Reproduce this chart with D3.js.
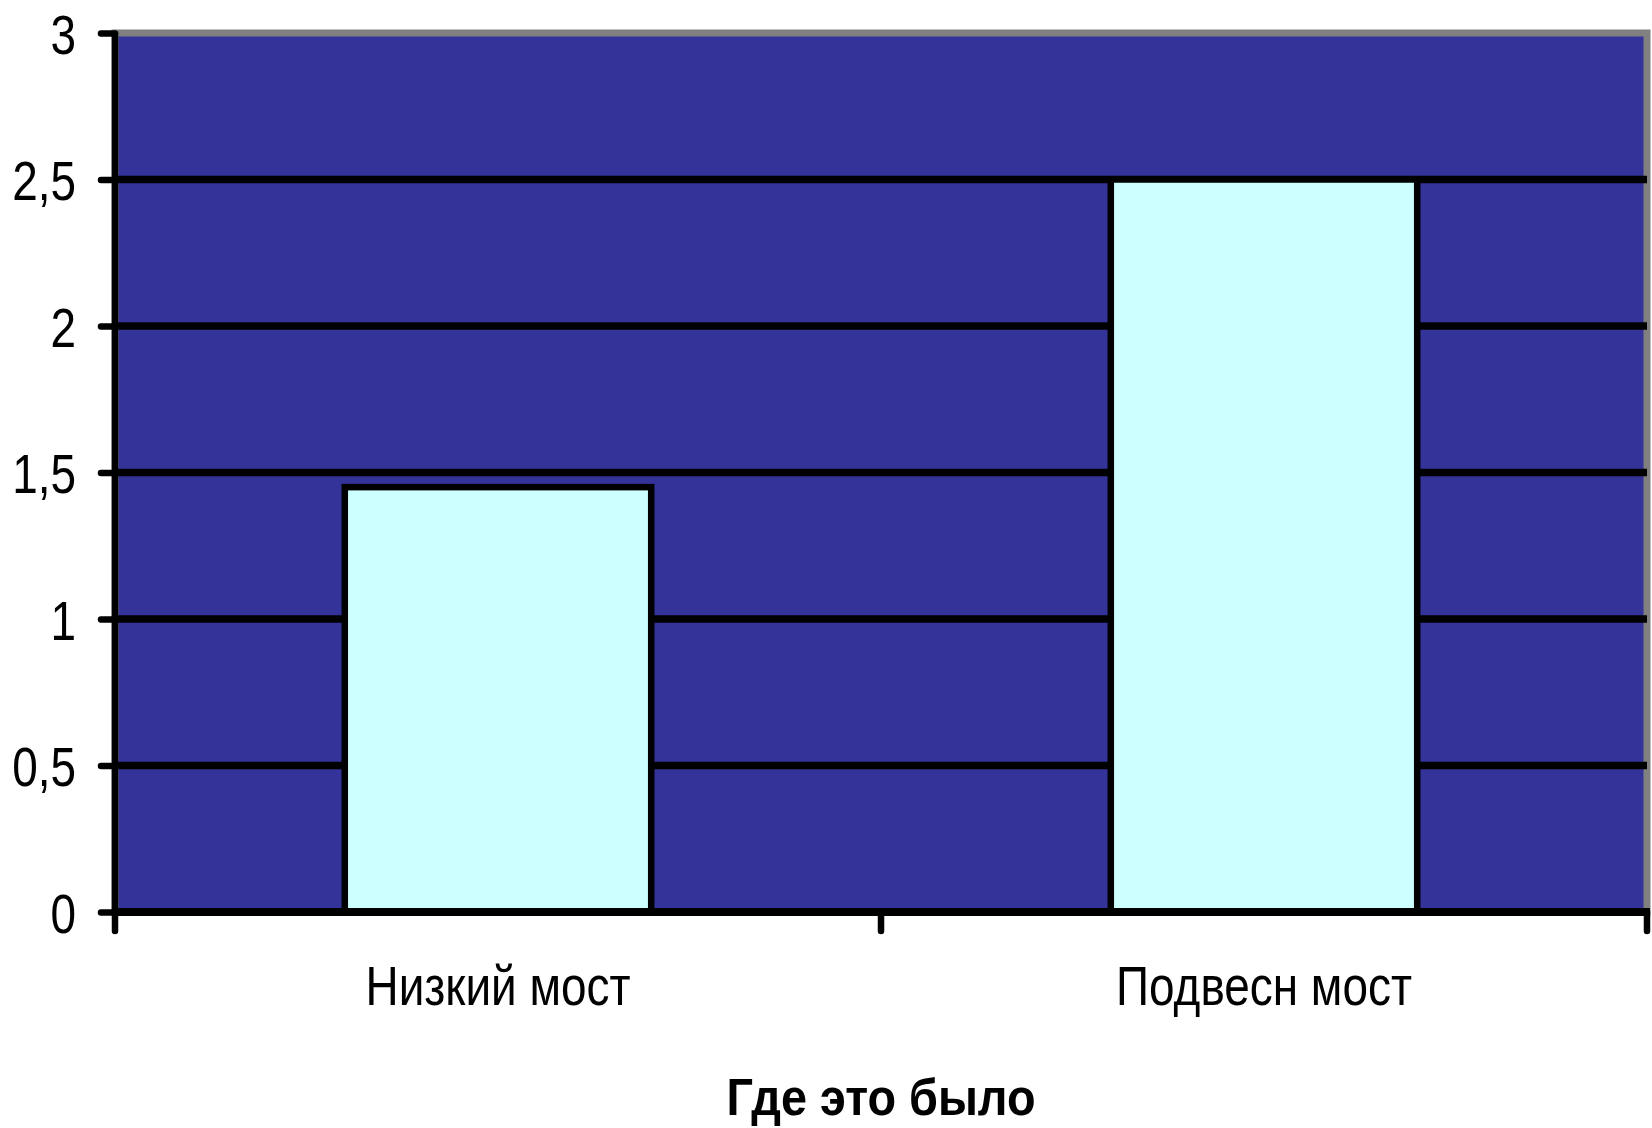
<!DOCTYPE html>
<html>
<head>
<meta charset="utf-8">
<script src="https://cdn.jsdelivr.net/npm/d3@7"></script>
<style>
  html, body { margin: 0; padding: 0; background: #ffffff; }
  svg { display: block; }
  text { font-family: "Liberation Sans", Arial, sans-serif; }
</style>
</head>
<body>
<svg id="chart" width="1652" height="1128"></svg>
<script>
// Bridge locations and counts
const categories = ["Низкий мост", "Подвесн мост"];
const values = [1.45, 2.5];
const yTicks = [0, 0.5, 1, 1.5, 2, 2.5, 3];
const xTitle = "Где это было";

const plot = { left: 115, right: 1647, top: 33, bottom: 912 };
const narrow = 0.82;      // horizontal squeeze for the condensed lettering
const narrowBold = 0.9;

const svg = d3.select("#chart");

const x = d3.scaleBand()
  .domain(categories)
  .range([plot.left, plot.right])
  .paddingInner(0.6)
  .paddingOuter(0.3);

const y = d3.scaleLinear()
  .domain([0, 3])
  .range([plot.bottom, plot.top]);

const fmt = v => d3.format("")(v).replace(".", ",");

// Plot area: navy fill with grey frame
svg.append("rect")
  .attr("x", plot.left).attr("y", plot.top)
  .attr("width", plot.right - plot.left).attr("height", plot.bottom - plot.top)
  .attr("fill", "#333399")
  .attr("stroke", "#808080")
  .attr("stroke-width", 7);

// Horizontal gridlines
svg.append("g")
  .selectAll("line")
  .data(yTicks.filter(t => t > 0 && t < 3))
  .join("line")
  .attr("x1", plot.left).attr("x2", plot.right)
  .attr("y1", d => y(d)).attr("y2", d => y(d))
  .attr("stroke", "#000").attr("stroke-width", 7.5);

// Bars
svg.append("g")
  .selectAll("rect")
  .data(categories.map((c, i) => ({ c, v: values[i] })))
  .join("rect")
  .attr("x", d => x(d.c))
  .attr("width", x.bandwidth())
  .attr("y", d => y(d.v))
  .attr("height", d => y(0) - y(d.v))
  .attr("fill", "#CCFFFF")
  .attr("stroke", "#000")
  .attr("stroke-width", 6.5);

// Value axis
const yAxis = svg.append("g")
  .attr("transform", `translate(${plot.left},0)`)
  .call(d3.axisLeft(y).tickValues(yTicks).tickFormat(fmt).tickSize(14).tickPadding(24));
yAxis.select(".domain").attr("stroke", "#000").attr("stroke-width", 6.5)
  .attr("d", `M0,${plot.top}V${plot.bottom}`);
yAxis.selectAll(".tick line").attr("stroke", "#000").attr("stroke-width", 6.5)
  .attr("stroke-linecap", "round");
yAxis.selectAll(".tick text")
  .attr("font-size", 56)
  .attr("fill", "#000")
  .attr("x", -39 / narrow)
  .attr("dy", "0.36em")
  .attr("transform", `scale(${narrow},1)`);

// Category axis with ticks on slot boundaries
const slots = d3.scaleLinear().domain([0, categories.length]).range([plot.left, plot.right]);
const bottomAxis = svg.append("g");
bottomAxis.append("line")
  .attr("x1", plot.left).attr("x2", slots(categories.length) + 3)
  .attr("y1", plot.bottom).attr("y2", plot.bottom)
  .attr("stroke", "#000").attr("stroke-width", 8);
bottomAxis.selectAll("line.tick")
  .data(d3.range(categories.length + 1))
  .join("line")
  .attr("class", "tick")
  .attr("x1", d => slots(d)).attr("x2", d => slots(d))
  .attr("y1", plot.bottom).attr("y2", plot.bottom + 19)
  .attr("stroke", "#000").attr("stroke-width", 6.5)
  .attr("stroke-linecap", "round");

bottomAxis.selectAll("g.label")
  .data(categories)
  .join("g")
  .attr("class", "label")
  .attr("transform", d => `translate(${x(d) + x.bandwidth() / 2},1005) scale(${narrow},1)`)
  .append("text")
  .attr("text-anchor", "middle")
  .attr("font-size", 56)
  .attr("fill", "#000")
  .text(d => d);

// Axis title
svg.append("g")
  .attr("transform", `translate(${(plot.left + plot.right) / 2},1115) scale(${narrowBold},1)`)
  .append("text")
  .attr("text-anchor", "middle")
  .attr("font-size", 52)
  .attr("font-weight", "bold")
  .attr("fill", "#000")
  .text(xTitle);
</script>
</body>
</html>
